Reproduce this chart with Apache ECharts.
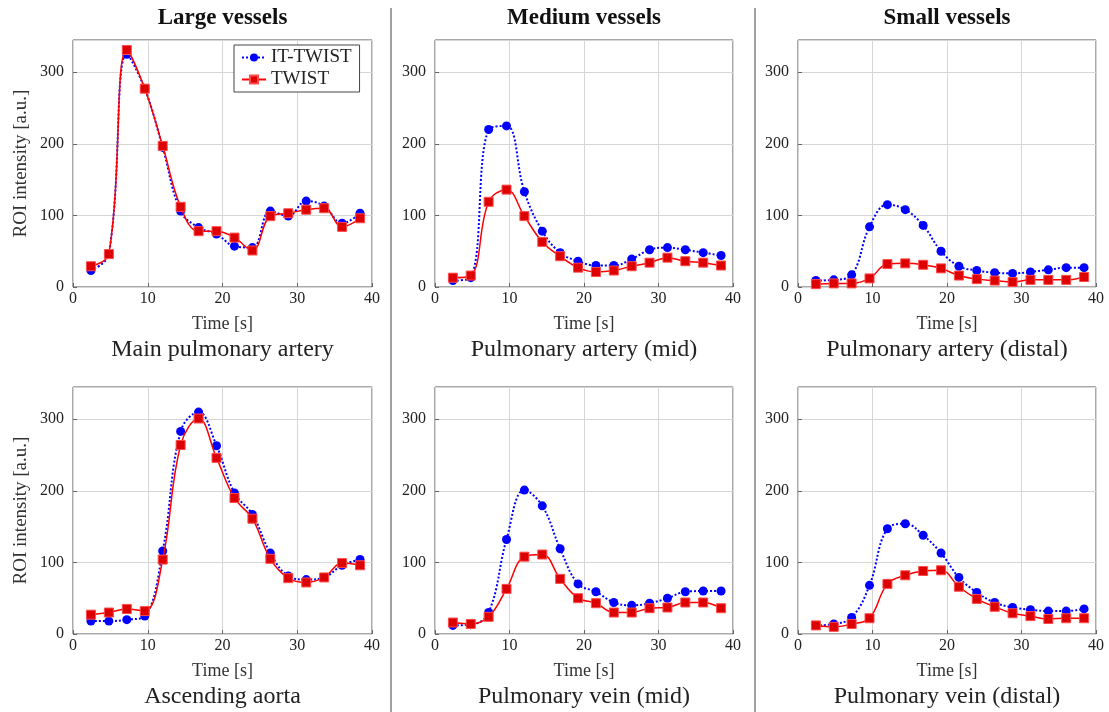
<!DOCTYPE html>
<html>
<head>
<meta charset="utf-8">
<script src="https://cdn.jsdelivr.net/npm/echarts@6/dist/echarts.min.js"></script>
<style>
  html, body { margin: 0; padding: 0; background: #fff; }
  #chart { width: 1109px; height: 712px; }
</style>
</head>
<body>
<div id="chart"></div>
<script>
// acquisition times [s]
const time = [2.4, 4.8, 7.2, 9.6, 12, 14.4, 16.8, 19.2, 21.6, 24, 26.4, 28.8, 31.2, 33.6, 36, 38.4]

// ROI intensities [a.u.]
const mainPaIt = [23, 46, 325, 277, 195, 106, 83, 74, 57, 55, 106, 99, 120, 113, 89, 103]
const mainPaTw = [29, 46, 331, 277, 197, 112, 78, 78, 69, 51, 99, 103, 108, 110, 84, 96]
const paMidIt = [9, 13, 220, 225, 133, 78, 48, 36, 30, 30, 39, 52, 55, 52, 48, 44]
const paMidTw = [13, 16, 119, 136, 99, 63, 43, 27, 21, 23, 29, 34, 41, 36, 34, 30]
const paDistIt = [9, 10, 17, 84, 115, 108, 86, 50, 29, 23, 20, 19, 21, 24, 27, 27]
const paDistTw = [4, 5, 5, 12, 32, 33, 31, 26, 16, 11, 9, 7, 10, 10, 10, 14]
const aortaIt = [18, 18, 20, 25, 116, 283, 310, 263, 197, 167, 113, 81, 76, 79, 96, 104]
const aortaTw = [27, 30, 35, 32, 104, 264, 301, 246, 190, 161, 105, 78, 72, 79, 99, 96]
const pvMidIt = [12, 13, 30, 132, 201, 179, 119, 70, 59, 44, 40, 43, 50, 59, 60, 60]
const pvMidTw = [16, 14, 24, 63, 108, 111, 77, 50, 43, 30, 30, 36, 37, 44, 44, 36]
const pvDistIt = [12, 14, 23, 68, 147, 154, 138, 113, 79, 58, 44, 37, 34, 32, 32, 35]
const pvDistTw = [12, 10, 14, 22, 70, 82, 88, 89, 66, 49, 38, 29, 25, 21, 22, 22]

const xTicks = [0, 10, 20, 30, 40]
const yTicks = [0, 100, 200, 300]
const columnTitles = ['Large vessels', 'Medium vessels', 'Small vessels']

const panels = [
  { caption: 'Main pulmonary artery', it: mainPaIt, tw: mainPaTw, col: 0, row: 0 },
  { caption: 'Pulmonary artery (mid)', it: paMidIt, tw: paMidTw, col: 1, row: 0 },
  { caption: 'Pulmonary artery (distal)', it: paDistIt, tw: paDistTw, col: 2, row: 0 },
  { caption: 'Ascending aorta', it: aortaIt, tw: aortaTw, col: 0, row: 1 },
  { caption: 'Pulmonary vein (mid)', it: pvMidIt, tw: pvMidTw, col: 1, row: 1 },
  { caption: 'Pulmonary vein (distal)', it: pvDistIt, tw: pvDistTw, col: 2, row: 1 }
]

const serif = 'Liberation Serif, DejaVu Serif, serif'
const cols = [{ left: 73, width: 299 }, { left: 435, width: 298 }, { left: 798, width: 298 }]
const rows = [{ top: 40, height: 247 }, { top: 387, height: 247 }]

const grids = []
const xAxes = []
const yAxes = []
const series = []
const graphics = []

panels.forEach((p, i) => {
  const c = cols[p.col]
  const r = rows[p.row]
  grids.push({
    left: c.left, top: r.top, width: c.width, height: r.height,
    show: true, borderColor: '#555', borderWidth: 1, backgroundColor: 'transparent'
  })
  xAxes.push({
    type: 'value', gridIndex: i, min: xTicks[0], max: xTicks[xTicks.length - 1],
    interval: xTicks[1] - xTicks[0],
    name: 'Time [s]', nameLocation: 'middle', nameGap: 28,
    nameTextStyle: { fontFamily: serif, fontSize: 18, color: '#333' },
    axisLine: { show: false },
    axisTick: { show: true, inside: true, length: 4, lineStyle: { color: '#666' } },
    axisLabel: { fontFamily: serif, fontSize: 16, color: '#222', margin: 4 },
    splitLine: { show: true, lineStyle: { color: '#d6d6d6', width: 1 } }
  })
  yAxes.push({
    type: 'value', gridIndex: i, min: yTicks[0], max: 345,
    interval: yTicks[1] - yTicks[0],
    name: p.col === 0 ? 'ROI intensity [a.u.]' : '',
    nameLocation: 'middle', nameGap: 42,
    nameTextStyle: { fontFamily: serif, fontSize: 19, color: '#333' },
    axisLine: { show: false },
    axisTick: { show: true, inside: true, length: 4, lineStyle: { color: '#666' } },
    axisLabel: {
      fontFamily: serif, fontSize: 16, color: '#222', margin: 9,
      showMaxLabel: false,
      formatter: v => (yTicks.indexOf(v) >= 0 ? String(v) : '')
    },
    splitLine: { show: true, lineStyle: { color: '#d6d6d6', width: 1 } }
  })
  series.push({
    name: 'IT-TWIST', type: 'line', xAxisIndex: i, yAxisIndex: i,
    data: time.map((t, k) => [t, p.it[k]]),
    smooth: 0.4, symbol: 'circle', symbolSize: 9,
    lineStyle: { color: '#0000ff', width: 2, type: [2, 2] },
    itemStyle: { color: '#0000ff' },
    z: 2
  })
  series.push({
    name: 'TWIST', type: 'line', xAxisIndex: i, yAxisIndex: i,
    data: time.map((t, k) => [t, p.tw[k]]),
    smooth: 0.4, symbol: 'rect', symbolSize: 9,
    lineStyle: { color: '#ff0000', width: 1.5 },
    itemStyle: { color: '#dd0000', borderColor: '#ff4a4a', borderWidth: 1 },
    z: 3
  })
  graphics.push({
    type: 'text', x: c.left + c.width / 2, y: r.top + r.height + 63,
    style: { text: p.caption, font: '24px ' + serif, fill: '#222', textAlign: 'center', textVerticalAlign: 'middle' }
  })
})

columnTitles.forEach((t, k) => {
  const c = cols[k]
  graphics.push({
    type: 'text', x: c.left + c.width / 2, y: 18,
    style: { text: t, font: 'bold 23px ' + serif, fill: '#111', textAlign: 'center', textVerticalAlign: 'middle' }
  })
})

// column separators
;[391, 755].forEach(x => {
  graphics.push({
    type: 'line', shape: { x1: x, y1: 8, x2: x, y2: 712 },
    style: { stroke: '#444', lineWidth: 1 }
  })
})

const chart = echarts.init(document.getElementById('chart'))
chart.setOption({
  animation: false,
  backgroundColor: '#fff',
  grid: grids,
  xAxis: xAxes,
  yAxis: yAxes,
  legend: {
    data: ['IT-TWIST', 'TWIST'],
    orient: 'vertical', left: 234, top: 45,
    backgroundColor: '#fff', borderColor: '#444', borderWidth: 1,
    padding: [3, 8, 3, 7], itemGap: 3, itemWidth: 24, itemHeight: 10,
    textStyle: { fontFamily: serif, fontSize: 19, color: '#222' }
  },
  series: series,
  graphic: graphics
})
</script>
</body>
</html>
